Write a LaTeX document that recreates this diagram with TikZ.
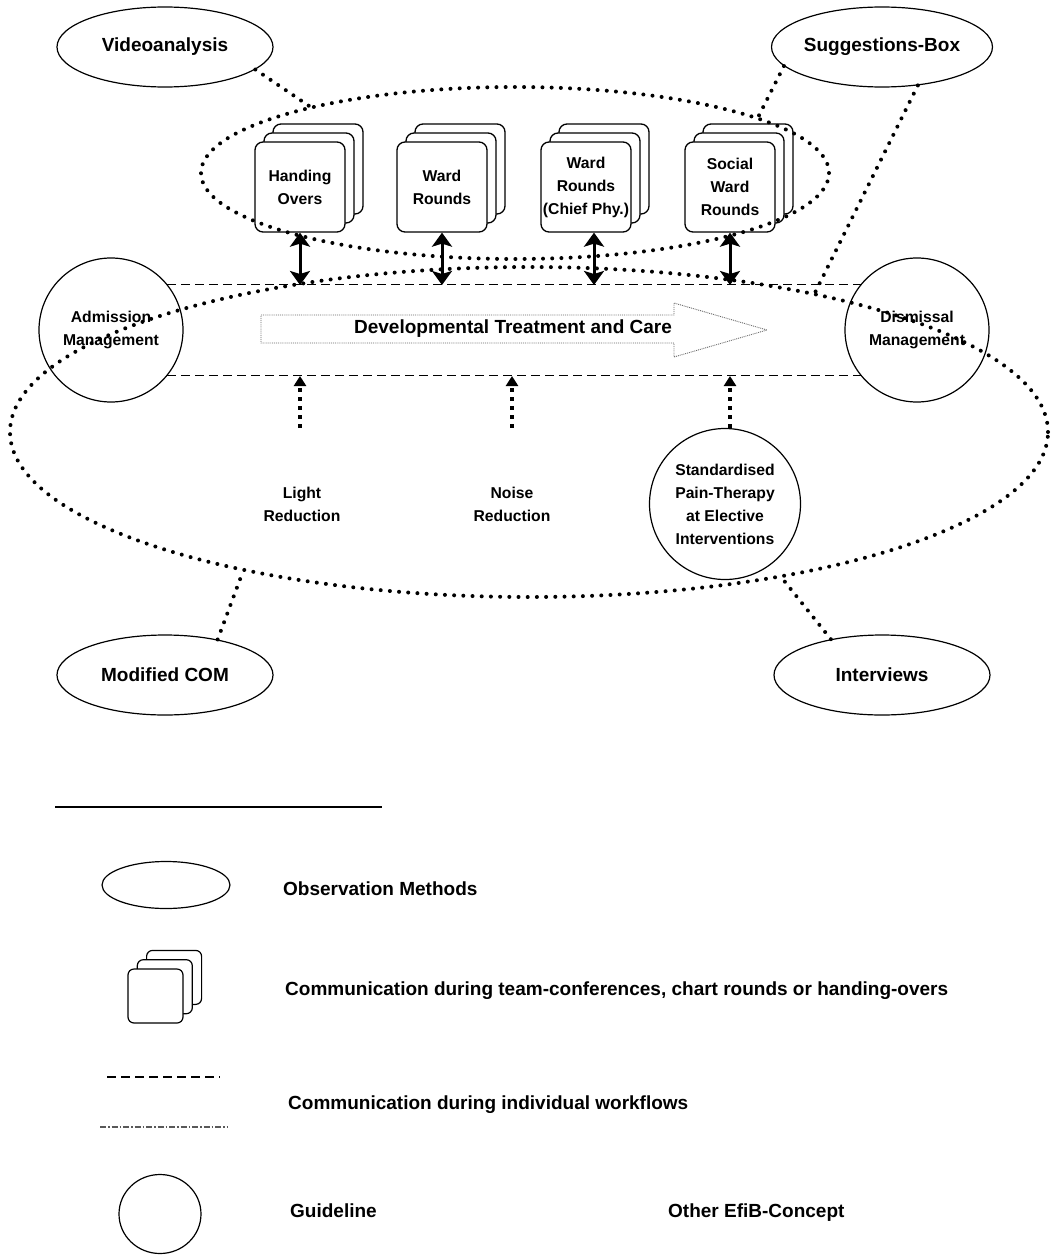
\documentclass[tikz,border=0pt]{standalone}
\usepackage{fontspec}
\setmainfont{Liberation Sans}
\usetikzlibrary{shapes.geometric,arrows.meta}

% three stacked rounded cards; the front one carries the name and the text
\newcommand\stackedcard[6]{% #1 name, #2 x, #3 y, #4 card style, #5 dx, #6 text
  \node[#4] (#1-c) at (#2+2*#5,#3-2*#5) {};
  \node[#4] (#1-b) at (#2+#5,#3-#5) {};
  \node[#4] (#1) at (#2,#3) {#6};
}

\begin{document}
\begin{tikzpicture}[x=1pt,y=-1pt,
  lbl/.style={font=\fontsize{19}{23}\selectfont\bfseries},
  small/.style={font=\fontsize{15.7}{23}\selectfont\bfseries,align=center},
  method/.style={ellipse,draw,line width=1.2pt,inner sep=0pt,minimum width=216pt,minimum height=80pt,lbl},
  guide/.style={circle,draw,line width=1.2pt,inner sep=0pt,minimum size=144pt,small},
  concept/.style={circle,inner sep=0pt,minimum size=152pt,small},
  cardbox/.style={draw,fill=white,rounded corners=8pt,line width=1.3pt,minimum width=90pt,minimum height=90pt,inner sep=0pt,small},
  cardmini/.style={draw,fill=white,rounded corners=6pt,line width=1.2pt,minimum width=55pt,minimum height=54pt,inner sep=0pt},
  dotline/.style={draw,line width=4pt,dash pattern=on 0pt off 9.2pt,line cap=round},
  flowline/.style={line width=1.5pt,dash pattern=on 9pt off 5pt},
  linkarrow/.style={line width=3pt,{Stealth[length=14pt,width=20pt,inset=3pt]}-{Stealth[length=14pt,width=20pt,inset=3pt]}},
  feedarrow/.style={line width=3.5pt,dash pattern=on 3.5pt off 5.5pt,-{Triangle[length=10pt,width=12pt]}},
  legendtext/.style={lbl,anchor=base west,inner sep=0pt},
]
\useasboundingbox (0,0) rectangle (1052,1255);

% observation methods
\node[method] (va) at (165,47) {Videoanalysis};
\node[method] (sb) at (882,47) {Suggestions-Box};
\node[method] (mc) at (165,675) {Modified COM};
\node[method] (iv) at (882,675) {Interviews};

% guidelines at admission and dismissal
\node[guide] (adm) at (111,330) {Admission\\Management};
\node[guide] (dis) at (917,330) {Dismissal\\Management};

% individual workflows
\coordinate (topline) at (0,285);
\coordinate (botline) at (0,376);
\draw[flowline] (adm.39) -- (dis.141);
\draw[flowline] (adm.-39) -- (dis.-141);

% developmental care arrow
\draw[gray!80!black,line width=0.9pt,densely dotted]
  (261,315) -- (674,315) -- (674,303) -- (767,330) -- (674,357) -- (674,343) -- (261,343) -- cycle;
\node[lbl] (dev) at (513,329) {Developmental Treatment and Care};

% team communication
\stackedcard{ho}{300}{187}{cardbox}{9}{Handing\\Overs}
\stackedcard{wr}{442}{187}{cardbox}{9}{Ward\\Rounds}
\stackedcard{wrc}{586}{187}{cardbox}{9}{Ward\\Rounds\\(Chief Phy.)}
\stackedcard{swr}{730}{187}{cardbox}{9}{Social\\Ward\\Rounds}

\draw[linkarrow] (ho.south) -- (ho.south |- topline);
\draw[linkarrow] (wr.south) -- (wr.south |- topline);
\draw[linkarrow] ([xshift=8pt]wrc.south) -- ([xshift=8pt]wrc.south |- topline);
\draw[linkarrow] (swr.south) -- (swr.south |- topline);

% other concepts
\node[concept] (lr) at (302,504) {Light\\Reduction};
\node[concept] (nr) at (512,504) {Noise\\Reduction};
\node[concept,draw,line width=1.2pt,minimum size=151pt] (pt) at (725,504)
  {Standardised\\Pain-Therapy\\at Elective\\Interventions};

\draw[feedarrow] ([xshift=-2pt]lr.north) -- ([xshift=-2pt]lr.north |- botline);
\draw[feedarrow] (nr.north) -- (nr.north |- botline);
\draw[feedarrow] ([xshift=5pt]pt.north) -- ([xshift=5pt]pt.north |- botline);

% observed areas
\node[ellipse,dotline,inner sep=0pt,minimum width=628pt,minimum height=172pt] (up) at (515,173) {};
\node[ellipse,dotline,inner sep=0pt,minimum width=1038pt,minimum height=330pt] (big) at (529,432) {};

\draw[dotline] (va.-14) -- (up.162);
\draw[dotline] (sb.-169) -- (up.13);
\draw[dotline] (sb.-47) -- (big.26);
\draw[dotline] (mc.34) -- (big.-154);
\draw[dotline] (iv.145) -- (big.-30);

% legend
\draw[line width=1.8pt] (55,807) -- (382,807);

\node[ellipse,draw,line width=1.2pt,inner sep=0pt,minimum width=128pt,minimum height=47pt] (lgm) at (166,885) {};
\node[legendtext] (lgmt) at (283,895) {Observation Methods};

\stackedcard{lgc}{155.5}{996}{cardmini}{9.3}{}
\node[legendtext] (lgct) at (285,995) {Communication during team-conferences, chart rounds or handing-overs};

\draw[flowline] (107,1077) -- (220,1077);
\draw[gray!70!black,line width=1.1pt,dash pattern=on 6pt off 2pt on 1.5pt off 2pt] (100,1127) -- (227,1127);
\node[legendtext] (lgft) at (288,1109) {Communication during individual workflows};

\node[ellipse,draw,line width=1.2pt,inner sep=0pt,minimum width=82pt,minimum height=79pt] (lgg) at (160,1214) {};
\node[legendtext] (lggt) at (290,1217) {Guideline};
\node[legendtext] (lgot) at (668,1217) {Other EfiB-Concept};
\end{tikzpicture}
\end{document}
